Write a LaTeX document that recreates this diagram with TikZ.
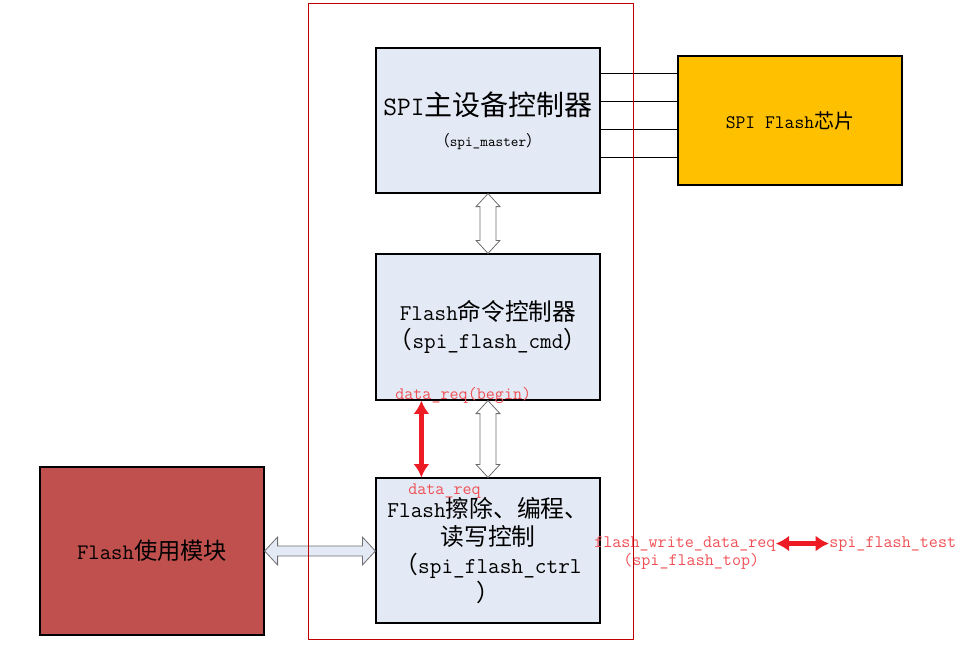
\documentclass[tikz,border=0pt]{standalone}
\usepackage{fontspec}
\setmainfont{Latin Modern Mono}
\newfontfamily\cjk[Scale=1.05]{Noto Sans CJK SC}
\usetikzlibrary{arrows.meta,calc}

\definecolor{boxblue}{RGB}{228,234,245}
\definecolor{chipgold}{RGB}{255,192,0}
\definecolor{userred}{RGB}{192,80,77}
\definecolor{framered}{RGB}{192,0,0}
\definecolor{sigred}{RGB}{237,28,36}
\definecolor{labelred}{RGB}{240,80,85}
\definecolor{busgray}{RGB}{110,110,110}

\tikzset{
  block/.style={draw=black, line width=0.9pt, fill=boxblue, align=center,
                inner sep=0pt, minimum width=168pt},
  sig/.style={font=\fontsize{13.2}{15}\selectfont, text=labelred, inner sep=0pt},
  reqarrow/.style={draw=sigred, line width=3.5pt,
                   arrows={Latex[length=10pt,width=12pt]-Latex[length=10pt,width=12pt]}},
  % hollow bus arrows, drawn as outlines between two points
  vbus/.style={draw=busgray, fill=white, line width=0.6pt,
    to path={-- ++(12,13) -- ++(-4,0) -- ($(\tikztotarget)+(8,-13)$) -- ++(4,0)
             -- (\tikztotarget) -- ++(-12,-13) -- ++(4,0)
             -- ($(\tikztostart)+(-8,13)$) -- ++(-4,0) -- cycle}},
  hbus/.style={draw=busgray, fill=boxblue, line width=0.6pt,
    to path={-- ++(13,-14) -- ++(0,9) -- ($(\tikztotarget)+(-13,-5)$) -- ++(0,-9)
             -- (\tikztotarget) -- ++(-13,14) -- ++(0,-9)
             -- ($(\tikztostart)+(13,5)$) -- ++(0,9) -- cycle}}
}

\begin{document}
\begin{tikzpicture}[x=0.75pt, y=-0.75pt]
  % picture frame, in pixels of the original
  \useasboundingbox (0,0) rectangle (967,650);

  % Blocks inside the flash controller
  \node[block, minimum height=108.75pt, font=\fontsize{20}{23}\selectfont] (master) at (488,120.5)
    {SPI{\cjk 主设备控制器}\\{\fontsize{10.9}{12}\selectfont{\cjk （}spi\_master{\cjk ）}}};
  \node[block, minimum height=109.5pt, font=\fontsize{16.9}{21}\selectfont] (cmd) at (488,327)
    {Flash{\cjk 命令控制器}\\{\cjk （}spi\_flash\_cmd{\cjk ）}};
  \node[block, minimum height=108.75pt, font=\fontsize{17}{21}\selectfont] (ctrl) at (488,550.5)
    {Flash{\cjk 擦除、编程、}\\{\cjk 读写控制}\\{\cjk （}spi\_flash\_ctrl\\{\cjk ）}};

  % Outside blocks
  \node[block, fill=chipgold, minimum height=96.75pt, font=\fontsize{14.3}{16}\selectfont] (chip) at (790,120.5)
    {SPI Flash{\cjk 芯片}};
  \node[block, fill=userred, minimum height=126pt, font=\fontsize{16.6}{18}\selectfont] (user) at (152,551)
    {Flash{\cjk 使用模块}};

  % SPI wires
  \foreach \y in {73,101,129,157} {
      \draw[line width=0.75pt] (master.east |- 0,\y) -- (chip.west |- 0,\y);
  }

  % Internal buses
  \draw[vbus] (master.south) to (cmd.north);
  \draw[vbus] (cmd.south) to (ctrl.north);
  \draw[hbus] (user.east) to (user.east -| ctrl.west);

  % data request handshake
  \node[sig, anchor=base west] (reqbegin) at (395,399) {data\_req(begin)};
  \node[sig, anchor=base west] (req) at (408,494) {data\_req};
  \coordinate (reqtop) at ($(cmd.south west)+(46,0)$);
  \coordinate (reqbot) at (reqtop |- ctrl.north);
  \draw[reqarrow] (reqtop) -- (reqbot);

  % top level request to the test module
  \node[sig, anchor=base west] (fwreq) at (594,547) {flash\_write\_data\_req};
  \node[sig, anchor=base west] (fwtop) at (623,565) {(spi\_flash\_top)};
  \node[sig, anchor=base west] (fltest) at (829,547) {spi\_flash\_test};
  \draw[reqarrow] (fwreq.east) -- (fwreq.east -| fltest.west);

  % spi_flash_top border
  \draw[framered, line width=0.75pt] (308,3) rectangle (633,639);
\end{tikzpicture}
\end{document}
